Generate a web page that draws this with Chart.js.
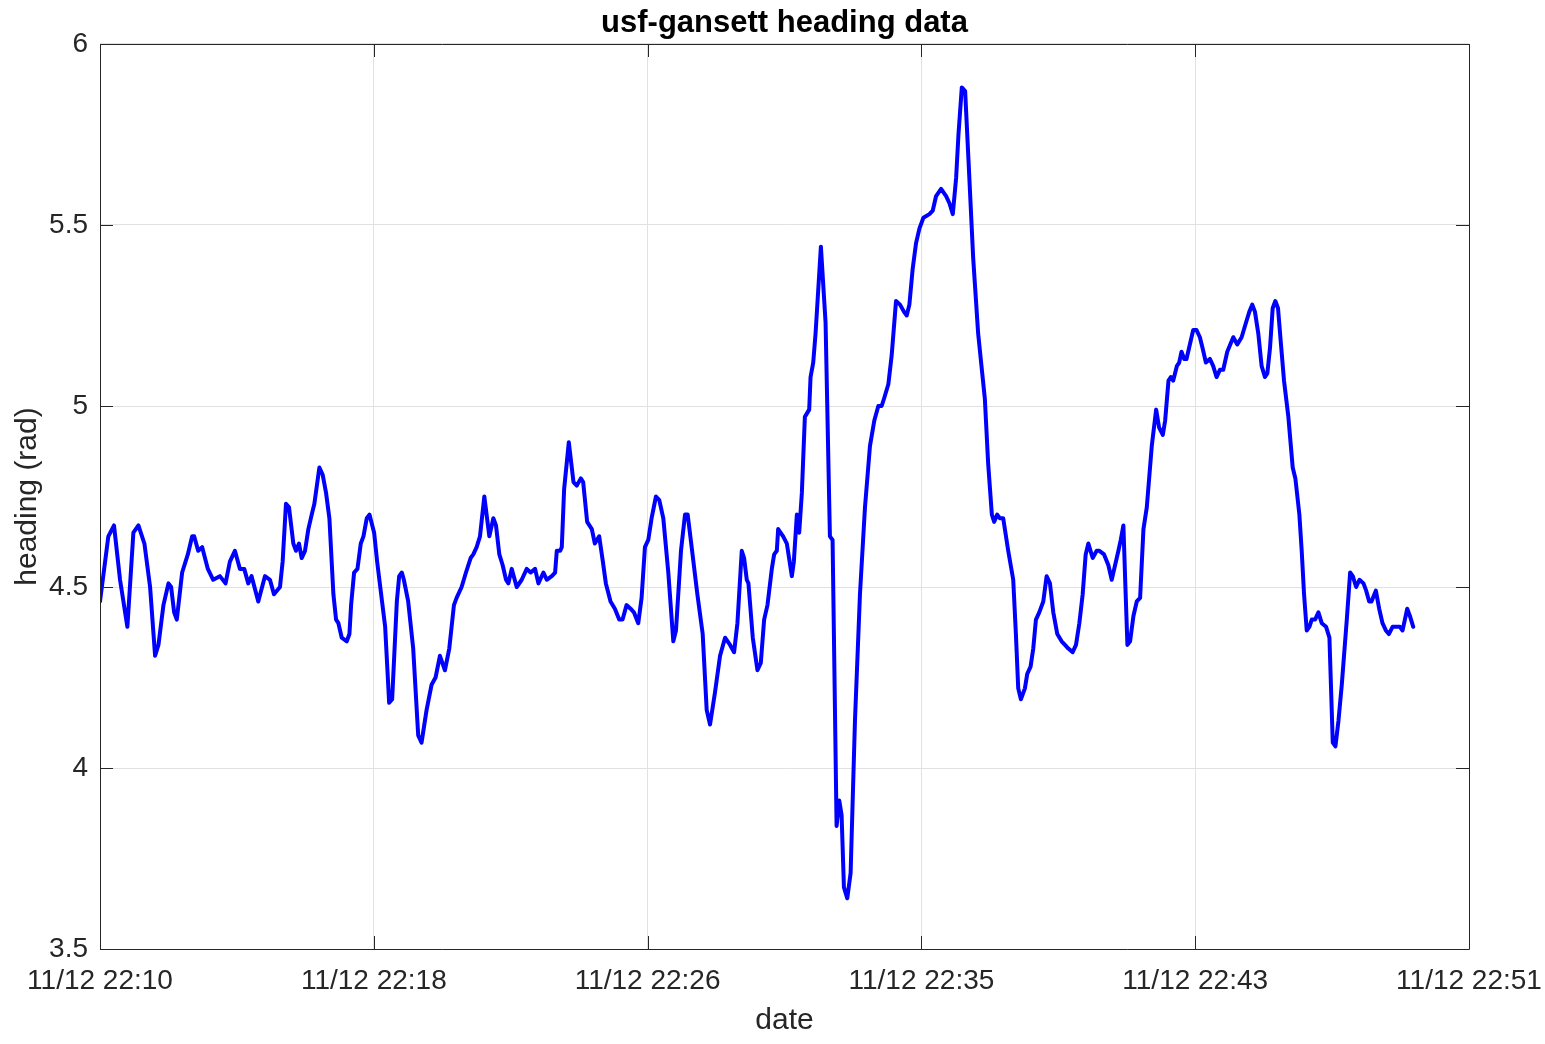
<!DOCTYPE html>
<html>
<head>
<meta charset="utf-8">
<script src="https://cdn.jsdelivr.net/npm/chart.js@4.4.1/dist/chart.umd.min.js"></script>
<style>
  html, body { margin: 0; padding: 0; background: #ffffff; }
  canvas { display: block; background: #ffffff; }
</style>
</head>
<body>
<canvas id="c" width="1545" height="1044"></canvas>
<script>
// minutes since 11/12 22:10
const minutes = [
  0.00,0.25,0.42,0.60,0.82,1.00,1.15,1.33,1.50,1.65,1.75,1.90,2.05,2.13,2.22,2.30,2.46,2.63,2.76,2.82,2.94,3.06,3.23,3.39,3.59,3.76,3.89,4.04,4.19,4.32,4.44,4.54,4.74,4.94,5.09,
  5.21,5.39,5.47,5.57,5.66,5.79,5.87,5.96,6.04,6.14,6.24,6.34,6.42,6.57,6.67,6.77,6.87,6.99,7.07,7.14,7.24,7.39,7.47,7.52,7.61,7.71,7.81,7.89,7.99,8.07,8.21,8.30,8.54,8.66,8.75,8.89,8.96,9.04,9.10,9.23,9.38,9.53,9.63,9.78,9.93,10.05,10.18,10.33,
  10.46,10.60,10.68,10.83,10.96,11.10,11.18,11.28,11.38,11.51,11.66,11.78,11.86,11.96,12.06,12.16,12.23,12.33,12.48,12.63,12.78,12.90,13.03,13.13,13.28,13.38,13.53,13.63,13.68,13.78,13.83,13.90,14.04,14.18,14.28,14.40,14.47,14.59,14.73,14.82,14.95,15.06,15.15,15.29,15.42,
  15.55,15.65,15.77,15.89,15.99,16.12,16.22,16.32,16.42,16.52,16.65,16.75,16.87,17.02,17.17,17.25,17.40,17.52,17.60,17.72,17.89,18.05,18.17,18.27,18.42,18.57,18.72,18.87,18.99,19.09,19.22,19.29,19.37,19.42,19.55,19.69,19.79,19.89,19.99,20.12,20.19,20.27,20.31,20.46,20.57,
  20.72,20.78,20.87,20.94,21.02,21.11,21.24,21.28,21.36,21.43,21.59,21.73,21.86,21.94,22.06,22.14,22.21,22.28,22.38,22.48,22.61,22.76,22.91,23.06,23.19,23.31,23.41,
  23.48,23.61,23.71,23.84,23.96,24.08,24.16,24.24,24.34,24.44,24.54,24.66,24.84,24.94,25.04,25.19,25.34,25.44,25.54,25.64,25.71,25.81,25.91,26.01,26.15,26.30,26.50,26.60,26.71,26.78,26.87,26.95,27.05,27.20,
  27.35,27.43,27.50,27.58,27.70,27.77,27.87,27.95,28.03,28.13,28.25,28.35,28.45,28.55,28.67,28.80,28.90,29.00,29.13,29.23,29.33,29.43,29.52,29.60,29.73,29.85,29.93,30.07,30.20,30.30,30.40,30.50,30.57,30.65,30.71,30.77,30.85,30.95,31.05,
  31.15,31.25,31.35,31.50,31.63,31.72,31.83,31.90,32.00,32.07,32.14,32.25,32.32,32.39,32.47,32.54,32.64,32.74,32.84,32.94,33.02,33.12,33.24,33.34,33.44,33.54,33.64,33.76,33.94,34.06,34.19,34.32,34.42,34.51,34.59,34.69,34.79,34.89,34.96,35.04,35.12,35.20,35.28,35.36,35.46,35.59,35.72,35.80,35.92,
  35.99,36.06,36.14,36.22,36.29,36.39,36.49,36.59,36.72,36.82,36.92,37.00,37.09,37.19,37.34,37.44,37.52,37.62,37.72,37.84,37.92,38.01,38.08,38.21,38.31,38.41,38.51,38.60,38.71,38.83,38.93,39.01,39.15,39.23,39.33
];

// heading (rad)
const heading = [
  4.46,4.64,4.67,4.52,4.39,4.65,4.67,4.62,4.50,4.31,4.34,4.45,4.51,4.50,4.43,4.41,4.54,4.59,4.64,4.64,4.60,4.61,4.55,4.52,4.53,4.51,4.57,4.60,4.55,4.55,4.51,4.53,4.46,4.53,4.52,
  4.48,4.50,4.57,4.73,4.72,4.62,4.60,4.62,4.58,4.60,4.66,4.70,4.73,4.83,4.81,4.76,4.69,4.48,4.41,4.40,4.36,4.35,4.37,4.45,4.54,4.55,4.62,4.64,4.69,4.70,4.65,4.57,4.39,4.18,4.19,4.46,4.53,4.54,4.52,4.46,4.33,4.09,4.07,4.16,4.23,4.25,4.31,4.27,
  4.33,4.45,4.47,4.50,4.54,4.58,4.59,4.61,4.64,4.75,4.64,4.69,4.67,4.59,4.56,4.52,4.51,4.55,4.50,4.52,4.55,4.54,4.55,4.51,4.54,4.52,4.53,4.54,4.60,4.60,4.61,4.77,4.90,4.79,4.78,4.80,4.79,4.68,4.66,4.62,4.64,4.57,4.51,4.46,4.44,
  4.41,4.41,4.45,4.44,4.43,4.40,4.47,4.61,4.63,4.69,4.75,4.74,4.69,4.54,4.35,4.38,4.60,4.70,4.70,4.61,4.48,4.37,4.16,4.12,4.21,4.31,4.36,4.34,4.32,4.40,4.60,4.58,4.52,4.51,4.36,4.27,4.29,4.41,4.45,4.55,4.59,4.60,4.66,4.64,4.62,
  4.53,4.57,4.70,4.65,4.76,4.97,4.99,5.08,5.12,5.20,5.44,5.23,4.64,4.63,3.84,3.91,3.87,3.67,3.64,3.71,4.13,4.48,4.72,4.89,4.96,5.00,5.00,
  5.02,5.06,5.14,5.29,5.28,5.26,5.25,5.28,5.38,5.45,5.49,5.52,5.53,5.54,5.58,5.60,5.58,5.56,5.53,5.63,5.75,5.88,5.87,5.68,5.41,5.20,5.02,4.84,4.70,4.68,4.70,4.69,4.69,4.60,
  4.52,4.37,4.22,4.19,4.22,4.26,4.28,4.33,4.41,4.43,4.46,4.53,4.51,4.43,4.37,4.35,4.34,4.33,4.32,4.34,4.40,4.48,4.59,4.62,4.58,4.60,4.60,4.59,4.56,4.52,4.56,4.60,4.63,4.67,4.50,4.34,4.35,4.42,4.46,
  4.47,4.66,4.72,4.89,4.99,4.94,4.92,4.96,5.07,5.08,5.07,5.11,5.12,5.15,5.13,5.13,5.17,5.21,5.21,5.19,5.16,5.12,5.13,5.11,5.08,5.10,5.10,5.15,5.19,5.17,5.19,5.23,5.26,5.28,5.26,5.20,5.11,5.08,5.09,5.16,5.27,5.29,5.27,5.18,5.07,4.97,4.83,4.80,4.70,
  4.60,4.48,4.38,4.39,4.41,4.41,4.43,4.40,4.39,4.36,4.07,4.06,4.13,4.23,4.41,4.54,4.53,4.50,4.52,4.51,4.49,4.46,4.46,4.49,4.44,4.40,4.38,4.37,4.39,4.39,4.39,4.38,4.44,4.42,4.39
];

// x tick positions (minutes since 22:10) and their labels
const xTickMinutes = [0, 8.2, 16.4, 24.6, 32.8, 41];
const xTickLabels = ['11/12 22:10', '11/12 22:18', '11/12 22:26', '11/12 22:35', '11/12 22:43', '11/12 22:51'];

const FONT = '"Liberation Sans", Arial, Helvetica, sans-serif';
const AXIS = '#262626';
const GRID = '#e1e1e1';

const points = minutes.map((m, i) => ({ x: m, y: heading[i] }));

const boxPlugin = {
  id: 'matlabBox',
  afterDraw(chart) {
    const { ctx, chartArea: a, scales } = chart;
    const tl = 13;
    ctx.save();
    ctx.strokeStyle = AXIS;
    ctx.lineWidth = 1;
    ctx.beginPath();
    ctx.rect(Math.round(a.left) + 0.5, Math.round(a.top) + 0.5,
             Math.round(a.right) - Math.round(a.left), Math.round(a.bottom) - Math.round(a.top));
    for (const v of xTickMinutes) {
      const px = Math.round(scales.x.getPixelForValue(v)) + 0.5;
      ctx.moveTo(px, a.bottom); ctx.lineTo(px, a.bottom - tl);
      ctx.moveTo(px, a.top); ctx.lineTo(px, a.top + tl);
    }
    for (const t of scales.y.ticks) {
      const py = Math.round(scales.y.getPixelForValue(t.value)) + 0.5;
      ctx.moveTo(a.left, py); ctx.lineTo(a.left + tl, py);
      ctx.moveTo(a.right, py); ctx.lineTo(a.right - tl, py);
    }
    ctx.stroke();
    ctx.restore();
  }
};

new Chart(document.getElementById('c'), {
  type: 'line',
  data: {
    datasets: [{
      label: 'heading',
      data: points,
      borderColor: '#0000ff',
      borderWidth: 4,
      pointRadius: 0,
      tension: 0,
      fill: false,
      borderJoinStyle: 'round',
      borderCapStyle: 'round'
    }]
  },
  options: {
    responsive: false,
    animation: false,
    devicePixelRatio: 1,
    layout: { padding: { left: 0, right: 76, top: 0, bottom: 0 } },
    plugins: {
      legend: { display: false },
      tooltip: { enabled: false },
      title: {
        display: true,
        fullSize: false,
        text: 'usf-gansett heading data',
        color: '#000000',
        font: { family: FONT, size: 31, weight: 'bold', lineHeight: 1.2 },
        padding: { top: 4.5, bottom: 2.3 }
      }
    },
    scales: {
      x: {
        type: 'linear',
        min: 0,
        max: 41,
        afterBuildTicks(scale) { scale.ticks = xTickMinutes.map(v => ({ value: v })); },
        afterFit(scale) { scale.height = 95; scale.paddingLeft = 0; scale.paddingRight = 0; },
        ticks: {
          autoSkip: false,
          maxRotation: 0,
          minRotation: 0,
          padding: 15,
          color: AXIS,
          font: { family: FONT, size: 28 },
          callback(value, index) { return xTickLabels[index]; }
        },
        grid: { color: GRID, lineWidth: 1, drawTicks: false },
        border: { display: false },
        title: {
          display: true,
          text: 'date',
          color: AXIS,
          font: { family: FONT, size: 30, lineHeight: 1.2 },
          padding: { top: 0, bottom: 5 }
        }
      },
      y: {
        type: 'linear',
        min: 3.5,
        max: 6,
        afterFit(scale) { scale.width = 100; },
        ticks: {
          stepSize: 0.5,
          padding: 12,
          color: AXIS,
          font: { family: FONT, size: 28 },
          callback(value) { return String(Number(value.toFixed(1))); }
        },
        grid: { color: GRID, lineWidth: 1, drawTicks: false },
        border: { display: false },
        title: {
          display: true,
          text: 'heading (rad)',
          color: AXIS,
          font: { family: FONT, size: 30, lineHeight: 1.2 },
          padding: { top: 10, bottom: 0 }
        }
      }
    }
  },
  plugins: [boxPlugin]
});
</script>
</body>
</html>
